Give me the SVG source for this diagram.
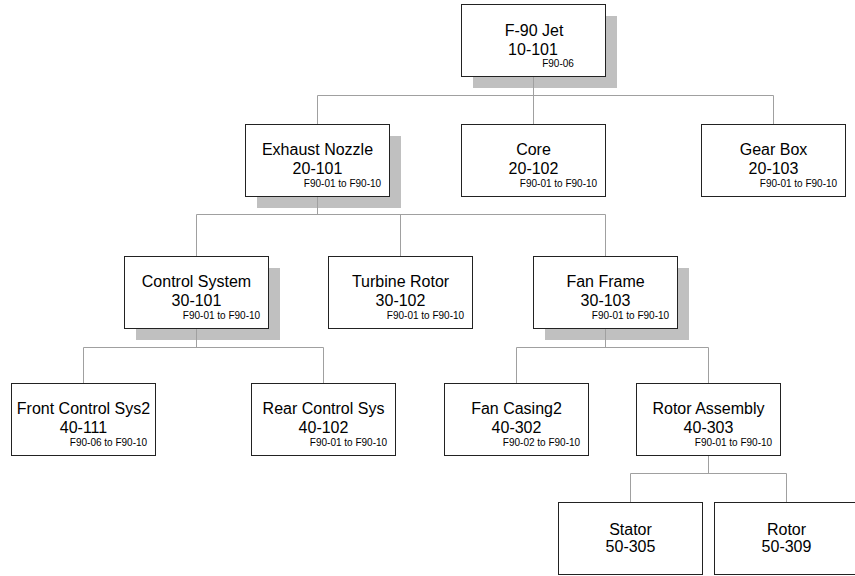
<svg xmlns="http://www.w3.org/2000/svg" width="855" height="576" viewBox="0 0 855 576">
<style>
.bg{fill:#fff}
.box{fill:#fff;stroke:#222;stroke-width:1}
.sh{fill:#c0c0c0}
.con{fill:none;stroke:#a0a0a0;stroke-width:1}
.t{font-family:"Liberation Sans",Arial,sans-serif;font-size:16px;fill:#000;text-anchor:middle}
.s{font-family:"Liberation Sans",Arial,sans-serif;font-size:10px;fill:#000;text-anchor:middle}
</style>
<rect class="bg" x="0" y="0" width="855" height="576"/>
<g id="shadows">
<rect class="sh" x="473" y="16" width="144" height="72"/>
<rect class="sh" x="257" y="136" width="144" height="72"/>
<rect class="sh" x="136" y="268" width="144" height="72"/>
<rect class="sh" x="545" y="268" width="144" height="72"/>
</g>
<g id="connectors">
<path class="con" d="M533.5 76.5V95.5M317.5 95.5H773.5M317.5 95.5V124.5M533.5 95.5V124.5M773.5 95.5V124.5"/>
<path class="con" d="M317.5 196.5V214.5M196.5 214.5H605.5M196.5 214.5V256.5M400.5 214.5V256.5M605.5 214.5V256.5"/>
<path class="con" d="M196.5 328.5V347.5M83.5 347.5H323.5M83.5 347.5V383.5M323.5 347.5V383.5"/>
<path class="con" d="M605.5 328.5V347.5M516.5 347.5H708.5M516.5 347.5V383.5M708.5 347.5V383.5"/>
<path class="con" d="M708.5 455.5V473.5M630.5 473.5H786.5M630.5 473.5V502.5M786.5 473.5V502.5"/>
</g>
<g id="n1">
<rect class="box" x="461.5" y="4.5" width="144" height="72"/>
<text class="t" x="534" y="36">F-90 Jet</text>
<text class="t" x="533" y="55">10-101</text>
<text class="s" x="558" y="66.5">F90-06</text>
</g>
<g id="n2">
<rect class="box" x="245.5" y="124.5" width="144" height="72"/>
<text class="t" x="317.5" y="155">Exhaust Nozzle</text>
<text class="t" x="317.5" y="174">20-101</text>
<text class="s" x="342.5" y="187">F90-01 to F90-10</text>
</g>
<g id="n3">
<rect class="box" x="461.5" y="124.5" width="144" height="72"/>
<text class="t" x="533.5" y="155">Core</text>
<text class="t" x="533.5" y="174">20-102</text>
<text class="s" x="558.5" y="187">F90-01 to F90-10</text>
</g>
<g id="n4">
<rect class="box" x="701.5" y="124.5" width="144" height="72"/>
<text class="t" x="773.5" y="155">Gear Box</text>
<text class="t" x="773.5" y="174">20-103</text>
<text class="s" x="798.5" y="187">F90-01 to F90-10</text>
</g>
<g id="n5">
<rect class="box" x="124.5" y="256.5" width="144" height="72"/>
<text class="t" x="196.5" y="287">Control System</text>
<text class="t" x="196.5" y="306">30-101</text>
<text class="s" x="221.5" y="319">F90-01 to F90-10</text>
</g>
<g id="n6">
<rect class="box" x="328.5" y="256.5" width="144" height="72"/>
<text class="t" x="400.5" y="287">Turbine Rotor</text>
<text class="t" x="400.5" y="306">30-102</text>
<text class="s" x="425.5" y="319">F90-01 to F90-10</text>
</g>
<g id="n7">
<rect class="box" x="533.5" y="256.5" width="144" height="72"/>
<text class="t" x="605.5" y="287">Fan Frame</text>
<text class="t" x="605.5" y="306">30-103</text>
<text class="s" x="630.5" y="319">F90-01 to F90-10</text>
</g>
<g id="n8">
<rect class="box" x="11.5" y="383.5" width="144" height="72"/>
<text class="t" x="83.5" y="414">Front Control Sys2</text>
<text class="t" x="83.5" y="433">40-111</text>
<text class="s" x="108.5" y="446">F90-06 to F90-10</text>
</g>
<g id="n9">
<rect class="box" x="251.5" y="383.5" width="144" height="72"/>
<text class="t" x="323.5" y="414">Rear Control Sys</text>
<text class="t" x="323.5" y="433">40-102</text>
<text class="s" x="348.5" y="446">F90-01 to F90-10</text>
</g>
<g id="n10">
<rect class="box" x="444.5" y="383.5" width="144" height="72"/>
<text class="t" x="516.5" y="414">Fan Casing2</text>
<text class="t" x="516.5" y="433">40-302</text>
<text class="s" x="541.5" y="446">F90-02 to F90-10</text>
</g>
<g id="n11">
<rect class="box" x="636.5" y="383.5" width="144" height="72"/>
<text class="t" x="708.5" y="414">Rotor Assembly</text>
<text class="t" x="708.5" y="433">40-303</text>
<text class="s" x="733.5" y="446">F90-01 to F90-10</text>
</g>
<g id="n12">
<rect class="box" x="558.5" y="502.5" width="144" height="72"/>
<text class="t" x="630.5" y="535">Stator</text>
<text class="t" x="630.5" y="552">50-305</text>
</g>
<g id="n13">
<rect class="box" x="714.5" y="502.5" width="144" height="72"/>
<text class="t" x="786.5" y="535">Rotor</text>
<text class="t" x="786.5" y="552">50-309</text>
</g>
</svg>
